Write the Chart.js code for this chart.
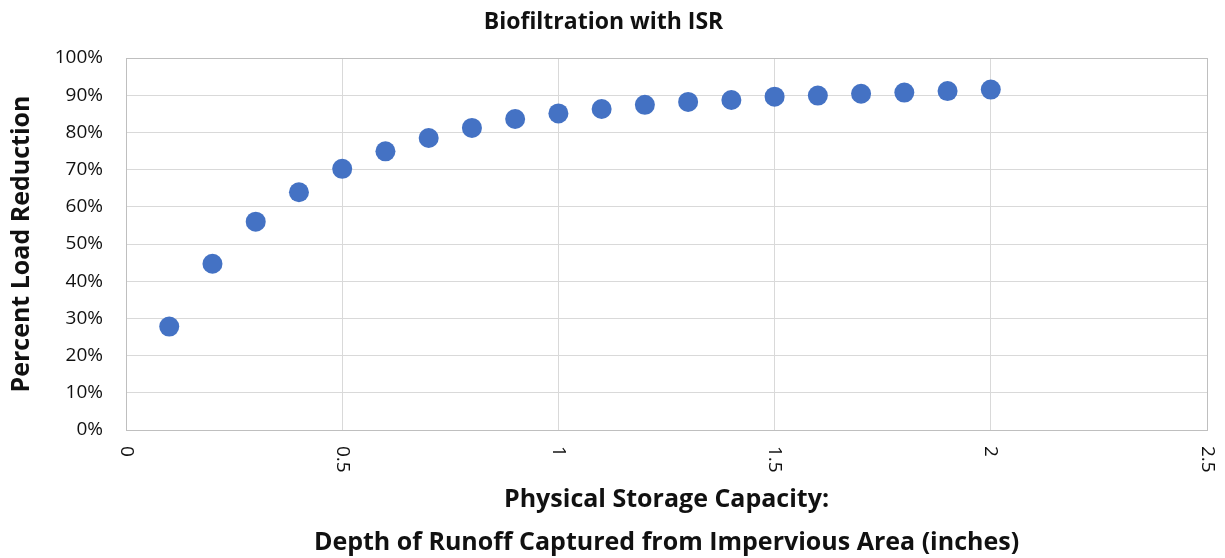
<!DOCTYPE html>
<html>
<head>
<meta charset="utf-8">
<title>Biofiltration with ISR</title>
<script src="https://cdn.jsdelivr.net/npm/chart.js@4"></script>
<style>
  html, body { margin: 0; padding: 0; background: #fff; }
  #wrap { width: 1225px; height: 558px; position: relative; }
</style>
</head>
<body>
<div id="wrap"><canvas id="grafico"></canvas></div>
<script>
// Datos
const depthInches = [0.1, 0.2, 0.3, 0.4, 0.5, 0.6, 0.7, 0.8, 0.9, 1.0,
                     1.1, 1.2, 1.3, 1.4, 1.5, 1.6, 1.7, 1.8, 1.9, 2.0];
const loadReductionPct = [27.8, 44.7, 56.0, 63.9, 70.2, 74.9, 78.5, 81.2, 83.6, 85.1,
                          86.3, 87.4, 88.2, 88.7, 89.6, 89.9, 90.4, 90.7, 91.1, 91.5];
const xRange = [0, 2.5];
const xStep = 0.5;
const yRange = [0, 100];
const yStep = 10;

const chartTitle = 'Biofiltration with ISR';
const yTitle = 'Percent Load Reduction';
const xTitle = ['Physical Storage Capacity:', 'Depth of Runoff Captured from Impervious Area (inches)'];

const fontFamily = "'Open Sans', 'DejaVu Sans', sans-serif";
const colorTexto = '#111';
const colorGrid = '#d9d9d9';
const colorBorde = '#bfbfbf';

// Etiquetas del eje x giradas 90 grados en sentido horario
const etiquetasX = {
    id: 'etiquetasX',
    afterDraw(chart) {
        const s = chart.scales.x;
        const ctx = chart.ctx;
        ctx.save();
        ctx.fillStyle = colorTexto;
        ctx.font = '19px ' + fontFamily;
        ctx.textAlign = 'left';
        ctx.textBaseline = 'middle';
        s.ticks.forEach(t => {
            const px = s.getPixelForValue(t.value);
            ctx.save();
            ctx.translate(px, s.top + 16);
            ctx.rotate(Math.PI / 2);
            ctx.fillText(String(+t.value.toFixed(2)), 0, 0);
            ctx.restore();
        });
        ctx.restore();
    }
};

const colorLinea = (ctx) => {
    const n = ctx.scale.ticks.length;
    return (ctx.index === 0 || ctx.index === n - 1) ? colorBorde : colorGrid;
};

const ctx = document.getElementById('grafico').getContext('2d');
window.myChart = new Chart(ctx, {
    type: 'scatter',
    data: {
        datasets: [{
            label: 'Percent Load Reduction',
            data: depthInches.map((x, i) => ({ x: x, y: loadReductionPct[i] })),
            backgroundColor: '#4472C4',
            borderColor: '#4472C4',
            borderWidth: 0,
            pointRadius: 10,
            pointHoverRadius: 10
        }]
    },
    options: {
        responsive: true,
        maintainAspectRatio: false,
        animation: false,
        events: [],
        layout: { padding: { left: 0, right: 18, top: 0, bottom: 0 } },
        plugins: {
            legend: { display: false },
            tooltip: { enabled: false },
            title: {
                display: true,
                text: chartTitle,
                color: colorTexto,
                font: { family: fontFamily, size: 23, weight: 'bold', lineHeight: 1.2 },
                padding: { top: 8.2, bottom: 22.2 }
            }
        },
        scales: {
            x: {
                type: 'linear',
                min: xRange[0],
                max: xRange[1],
                ticks: { stepSize: xStep, display: false },
                grid: { color: colorLinea, lineWidth: 1, drawTicks: false },
                border: { color: colorBorde, width: 1 },
                title: {
                    display: true,
                    text: xTitle,
                    color: colorTexto,
                    font: { family: fontFamily, size: 25, weight: 'bold', lineHeight: 1.72 },
                    padding: { top: 0, bottom: -6.5 }
                },
                afterFit(scale) { scale.height = 128; }
            },
            y: {
                min: yRange[0],
                max: yRange[1],
                ticks: {
                    stepSize: yStep,
                    padding: 23,
                    color: colorTexto,
                    font: { family: fontFamily, size: 19 },
                    callback: v => Math.round(v) + '%'
                },
                grid: { color: colorLinea, lineWidth: 1, drawTicks: false },
                border: { color: colorBorde, width: 1 },
                title: {
                    display: true,
                    text: yTitle,
                    color: colorTexto,
                    font: { family: fontFamily, size: 25, weight: 'bold', lineHeight: 1.2 },
                    padding: { top: 7, bottom: 0 }
                },
                afterFit(scale) { scale.width = 126; }
            }
        }
    },
    plugins: [etiquetasX]
});
</script>
</body>
</html>
